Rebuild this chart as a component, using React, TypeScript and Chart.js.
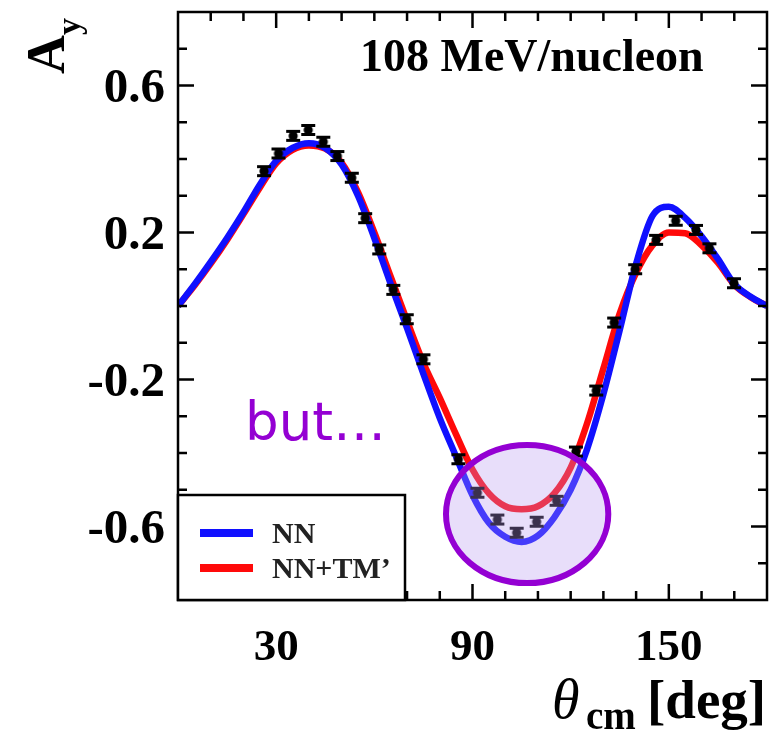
import React, { useEffect, useRef } from 'react';
import { Chart, registerables } from 'chart.js';

Chart.register(...registerables);

// ---- data ----
const thetaGrid = [0, 5, 10, 15, 20, 25, 30, 35, 40, 45, 50, 55, 60, 65, 70, 75, 80, 85, 90, 95, 100, 105, 110, 115, 120, 125, 130, 135, 140, 145, 150, 155, 160, 165, 170, 175, 180];
const nnCurve = [0, 0.058, 0.12, 0.185, 0.255, 0.33, 0.395, 0.43, 0.443, 0.43, 0.385, 0.3, 0.185, 0.06, -0.06, -0.185, -0.305, -0.41, -0.515, -0.59, -0.628, -0.642, -0.625, -0.575, -0.5, -0.39, -0.24, -0.065, 0.115, 0.245, 0.27, 0.24, 0.19, 0.128, 0.06, 0.025, 0];
const nnTmCurve = [0, 0.055, 0.115, 0.18, 0.25, 0.322, 0.388, 0.425, 0.437, 0.428, 0.39, 0.31, 0.2, 0.08, -0.04, -0.155, -0.25, -0.35, -0.445, -0.51, -0.545, -0.553, -0.545, -0.51, -0.44, -0.32, -0.17, -0.02, 0.09, 0.165, 0.2, 0.198, 0.165, 0.118, 0.058, 0.024, 0];
const expTheta = [26.3, 30.7, 35.2, 39.8, 44.4, 48.7, 53.1, 57.2, 61.5, 65.8, 69.9, 75.0, 85.7, 91.5, 97.6, 103.5, 109.6, 115.7, 121.6, 127.8, 133.3, 139.7, 146.1, 152.1, 158.3, 162.4, 169.9];
const expAy = [0.367, 0.415, 0.463, 0.479, 0.447, 0.408, 0.349, 0.239, 0.154, 0.044, -0.036, -0.145, -0.417, -0.508, -0.581, -0.617, -0.587, -0.53, -0.396, -0.23, -0.045, 0.1, 0.18, 0.232, 0.207, 0.157, 0.062];
const xMajorTicks = [30, 90, 150];
const yMajorTicks = [0.6, 0.2, -0.2, -0.6];
const xTickLabels = ['30', '90', '150'];
const yTickLabels = ['0.6', '0.2', '-0.2', '-0.6'];
const seriesNames = ['NN', 'NN+TM\u2019'];
const titleText = '108 MeV/nucleon';
const noteText = 'but\u2026';

const SERIF = '"Liberation Serif", "Times New Roman", serif';
const BLUE = '#1010ff';
const RED = '#ff0a0a';
const PURPLE = '#9400d3';

function makeMarker(): HTMLCanvasElement {
  const c = document.createElement('canvas');
  c.width = 18;
  c.height = 14;
  const g = c.getContext('2d')!;
  g.strokeStyle = '#000';
  g.fillStyle = '#000';
  g.lineWidth = 3;
  g.beginPath();
  g.moveTo(2, 2.5); g.lineTo(16, 2.5);
  g.moveTo(2, 11.5); g.lineTo(16, 11.5);
  g.moveTo(9, 2); g.lineTo(9, 12);
  g.stroke();
  g.beginPath();
  g.arc(9, 7, 4.6, 0, Math.PI * 2);
  g.fill();
  return c;
}

const overlay = {
  id: 'overlay',
  afterDatasetsDraw(chart: any) {
    const { ctx, chartArea: a, scales } = chart;
    const x = scales.x;
    const y = scales.y;
    ctx.save();
    // highlight ellipse
    const cx = x.getPixelForValue(106.7);
    const cy = y.getPixelForValue(-0.566);
    const rx = x.getPixelForValue(106.7 + 24.8) - cx;
    const ry = y.getPixelForValue(-0.566 - 0.188) - cy;
    ctx.beginPath();
    ctx.ellipse(cx, cy, rx, ry, 0, 0, Math.PI * 2);
    ctx.fillStyle = 'rgba(185,151,239,0.32)';
    ctx.fill();
    ctx.lineWidth = 6;
    ctx.strokeStyle = PURPLE;
    ctx.stroke();

    // frame
    ctx.lineWidth = 2.5;
    ctx.strokeStyle = '#000';
    ctx.strokeRect(a.left, a.top, a.right - a.left, a.bottom - a.top);

    // ticks
    ctx.beginPath();
    for (let v = 10; v < 180; v += 10) {
      const px = x.getPixelForValue(v);
      const len = xMajorTicks.includes(v) ? 16 : 9;
      ctx.moveTo(px, a.bottom); ctx.lineTo(px, a.bottom - len);
      ctx.moveTo(px, a.top); ctx.lineTo(px, a.top + len);
    }
    for (let i = -7; i <= 7; i++) {
      const v = i / 10;
      const py = y.getPixelForValue(v);
      const len = yMajorTicks.some((m) => Math.abs(m - v) < 1e-6) ? 16 : 9;
      ctx.moveTo(a.left, py); ctx.lineTo(a.left + len, py);
      ctx.moveTo(a.right, py); ctx.lineTo(a.right - len, py);
    }
    ctx.stroke();

    // tick labels
    ctx.fillStyle = '#000';
    ctx.textBaseline = 'alphabetic';
    ctx.font = `bold 45px ${SERIF}`;
    ctx.textAlign = 'center';
    xMajorTicks.forEach((v, i) => {
      ctx.fillText(xTickLabels[i], x.getPixelForValue(v), 660);
    });
    ctx.font = `bold 49px ${SERIF}`;
    ctx.textAlign = 'right';
    yMajorTicks.forEach((v, i) => {
      ctx.fillText(yTickLabels[i], 165, y.getPixelForValue(v) + 16);
    });
    ctx.textAlign = 'left';

    // legend box
    const lx0 = a.left, lx1 = 405, ly0 = 495, ly1 = a.bottom;
    ctx.lineWidth = 2.5;
    ctx.fillStyle = '#fff';
    ctx.fillRect(lx0, ly0, lx1 - lx0, ly1 - ly0);
    ctx.strokeRect(lx0, ly0, lx1 - lx0, ly1 - ly0);
    const legendColors = [BLUE, RED];
    const rows = [533, 568];
    ctx.font = `bold 30px ${SERIF}`;
    ctx.textBaseline = 'middle';
    seriesNames.forEach((name, i) => {
      ctx.lineWidth = 8;
      ctx.strokeStyle = legendColors[i];
      ctx.beginPath();
      ctx.moveTo(200, rows[i]);
      ctx.lineTo(253, rows[i]);
      ctx.stroke();
      ctx.fillStyle = '#222';
      ctx.fillText(name, 272, rows[i] + 2);
    });

    // title
    ctx.fillStyle = '#000';
    ctx.textBaseline = 'alphabetic';
    ctx.font = `bold 46px ${SERIF}`;
    ctx.fillText(titleText, 360, 71);

    // note
    ctx.fillStyle = PURPLE;
    ctx.font = `53px "DejaVu Sans", sans-serif`;
    ctx.fillText(noteText, 245, 440);

    // x axis title
    ctx.fillStyle = '#000';
    ctx.font = `italic 56px ${SERIF}`;
    ctx.fillText('\u03b8', 552, 718);
    ctx.font = `bold 39px ${SERIF}`;
    ctx.fillText('cm', 586, 729);
    ctx.font = `bold 55px ${SERIF}`;
    ctx.fillText('[deg]', 647, 718);

    // y axis title
    ctx.translate(64, 74);
    ctx.rotate(-Math.PI / 2);
    ctx.font = `bold 54px ${SERIF}`;
    ctx.fillText('A', 0, 0);
    ctx.font = `bold 34px ${SERIF}`;
    ctx.fillText('y', 39, 16);
    ctx.restore();
  },
};

export default function App() {
  const ref = useRef<HTMLCanvasElement>(null);
  useEffect(() => {
    const canvas = ref.current!;
    const marker = makeMarker();
    const chart = new Chart(canvas, {
      type: 'line',
      data: {
        datasets: [
          {
            label: 'data',
            data: expTheta.map((t, i) => ({ x: t, y: expAy[i] })),
            showLine: false,
            pointStyle: marker as any,
            pointRadius: 7,
            order: 0,
          },
          {
            label: seriesNames[0],
            data: thetaGrid.map((t, i) => ({ x: t, y: nnCurve[i] })),
            borderColor: BLUE,
            borderWidth: 6.5,
            pointRadius: 0,
            cubicInterpolationMode: 'monotone',
            order: 1,
          },
          {
            label: seriesNames[1],
            data: thetaGrid.map((t, i) => ({ x: t, y: nnTmCurve[i] })),
            borderColor: RED,
            borderWidth: 6.5,
            pointRadius: 0,
            cubicInterpolationMode: 'monotone',
            order: 2,
          },
        ],
      },
      options: {
        responsive: false,
        animation: false,
        events: [],
        layout: { padding: { left: 0, top: 12, right: 10, bottom: 0 } },
        plugins: { legend: { display: false }, tooltip: { enabled: false } },
        scales: {
          x: {
            type: 'linear',
            min: 0,
            max: 180,
            border: { display: false },
            grid: { display: false, drawTicks: false },
            ticks: { display: false },
            afterFit: (s: any) => { s.height = 132; },
          },
          y: {
            type: 'linear',
            min: -0.8,
            max: 0.8,
            border: { display: false },
            grid: { display: false, drawTicks: false },
            ticks: { display: false },
            afterFit: (s: any) => { s.width = 178; },
          },
        },
      },
      plugins: [overlay],
    });
    return () => chart.destroy();
  }, []);
  return (
    <div style={{ position: 'absolute', left: 0, top: 0, width: 777, height: 732, background: '#fff' }}>
      <canvas ref={ref} width={777} height={732} style={{ display: 'block', width: 777, height: 732 }} />
    </div>
  );
}
